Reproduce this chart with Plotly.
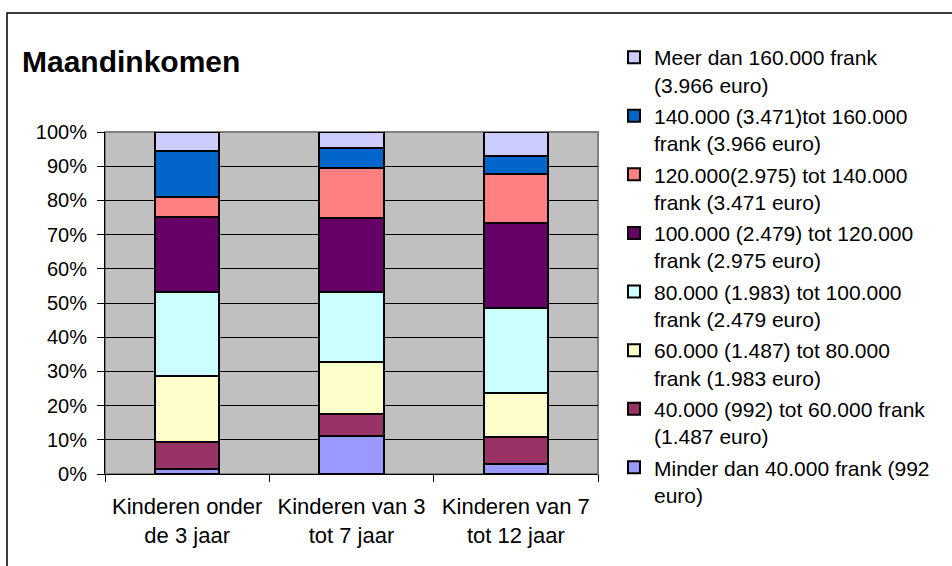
import plotly.graph_objects as go

categories = ["Kinderen onder<br>de 3 jaar", "Kinderen van 3<br>tot 7 jaar", "Kinderen van 7<br>tot 12 jaar"]

# series, bottom to top (percent)
series_names = [
    "Minder dan 40.000 frank (992<br>euro)",
    "40.000 (992) tot 60.000 frank<br>(1.487 euro)",
    "60.000 (1.487) tot 80.000<br>frank (1.983 euro)",
    "80.000 (1.983) tot 100.000<br>frank (2.479 euro)",
    "100.000 (2.479) tot 120.000<br>frank (2.975 euro)",
    "120.000(2.975) tot 140.000<br>frank (3.471 euro)",
    "140.000 (3.471)tot 160.000<br>frank (3.966 euro)",
    "Meer dan 160.000 frank<br>(3.966 euro)",
]
minder_40 = [1.5, 11.1, 2.8]
van_40_60 = [7.8, 6.4, 7.9]
van_60_80 = [19.4, 15.2, 12.9]
van_80_100 = [24.6, 20.4, 24.9]
van_100_120 = [21.8, 21.8, 24.8]
van_120_140 = [6.0, 14.7, 14.3]
van_140_160 = [13.2, 5.8, 5.5]
meer_160 = [5.7, 4.6, 6.9]
series_values = [minder_40, van_40_60, van_60_80, van_80_100, van_100_120, van_120_140, van_140_160, meer_160]
series_colors = ["#9999FF", "#993366", "#FFFFCC", "#CCFFFF", "#660066", "#FF8080", "#0066CC", "#CCCCFF"]

y_tickvals = [0, 10, 20, 30, 40, 50, 60, 70, 80, 90, 100]
y_ticktext = [f"{v}%" for v in y_tickvals]

FONT = "Arial, Liberation Sans, sans-serif"

fig = go.Figure()
n = len(series_names)
for i, (name, vals, col) in enumerate(zip(series_names, series_values, series_colors)):
    fig.add_trace(go.Bar(
        x=categories, y=vals, name=name,
        marker=dict(color=col, line=dict(color="black", width=2)),
        legendgroup=f"g{i}",
        legendrank=n - i,
        hoverinfo="skip",
    ))

W, H = 952, 566
L, R, T, B = 105, 598, 132, 474

def px_x(x):
    return (x - L) / (R - L)

def px_y(y):
    return (B - y) / (B - T)

fig.update_layout(
    width=W, height=H,
    margin=dict(l=L, r=W - R, t=T, b=H - B, pad=0),
    barmode="stack",
    bargap=0.61,
    paper_bgcolor="white",
    plot_bgcolor="#C0C0C0",
    font=dict(family=FONT, color="black", size=21),
    title=dict(
        text="<b>Maandinkomen</b>",
        font=dict(family=FONT, size=30, color="black"),
        xref="container", yref="container",
        x=22 / W, xanchor="left",
        y=1 - 61 / H, yanchor="middle",
    ),
    legend=dict(
        x=px_x(614), xanchor="left",
        y=px_y(37), yanchor="top",
        traceorder="grouped",
        tracegroupgap=1,
        valign="top",
        maxheight=560,
        font=dict(family=FONT, size=21, color="black"),
        bgcolor="rgba(0,0,0,0)",
        borderwidth=0,
    ),
    showlegend=True,
    xaxis=dict(
        type="category",
        showgrid=False,
        showline=True, linecolor="black", linewidth=1,
        ticks="outside", ticklen=7, tickcolor="black", tickwidth=1,
        tickson="boundaries",
        tickfont=dict(family=FONT, size=22, color="black"),
        ticklabelstandoff=13,
        fixedrange=True,
    ),
    yaxis=dict(
        range=[0, 100],
        tickvals=y_tickvals, ticktext=y_ticktext,
        showgrid=True, gridcolor="black", gridwidth=1,
        zeroline=False,
        showline=True, linecolor="black", linewidth=1,
        ticks="outside", ticklen=7, tickcolor="black", tickwidth=1,
        tickfont=dict(family=FONT, size=20, color="black"),
        ticklabelstandoff=6,
        fixedrange=True,
    ),
    shapes=[
        # plot area border (top/right grey)
        dict(type="rect", xref="paper", yref="paper", x0=0, x1=1, y0=0, y1=1,
             line=dict(color="#808080", width=2), fillcolor="rgba(0,0,0,0)", layer="below"),
        # chart outer border
        dict(type="rect", xref="paper", yref="paper",
             x0=px_x(7), x1=px_x(W + 20), y0=px_y(H + 20), y1=px_y(13),
             line=dict(color="black", width=1.5), fillcolor="rgba(0,0,0,0)", layer="above"),
    ],
)

fig.write_html("out.html", config={"displayModeBar": False},
               post_script="document.body.style.margin='0';")
